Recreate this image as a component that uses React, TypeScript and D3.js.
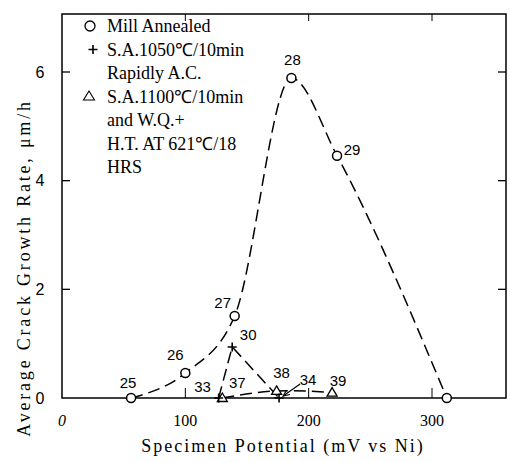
import React from "react";
import * as d3 from "d3";

// Mill Annealed (circles)
const millX = [56, 100, 140, 186, 223, 312];
const millY = [0, 0.46, 1.51, 5.89, 4.46, 0];
const millLabels = ["25", "26", "27", "28", "29", ""];

// S.A.1050C/10min Rapidly A.C. (plus)
const saAX = [127, 138, 176];
const saAY = [0, 0.94, 0];
const saALabels = ["33", "30", "34"];

// S.A.1100C/10min and W.Q. + H.T. (triangles)
const saBX = [130, 174, 219];
const saBY = [0, 0.13, 0.1];
const saBLabels = ["37", "38", "39"];

const xTicks = [0, 100, 200, 300];
const yTicks = [0, 2, 4, 6];

const legendLines = [
  "Mill Annealed",
  "S.A.1050\u2103/10min",
  "Rapidly A.C.",
  "S.A.1100\u2103/10min",
  "and W.Q.+",
  "H.T. AT 621\u2103/18",
  "HRS",
];

// label offsets (px) from their point
const labelOffset: Record<string, [number, number]> = {
  "25": [-3, -15], "26": [-10, -18], "27": [-12, -13], "28": [1, -18], "29": [15, -6],
  "30": [16, -12], "33": [-16, -11], "34": [29, -18],
  "37": [15, -15], "38": [5, -18], "39": [6, -12],
};

const SERIF = "'Liberation Serif'";
const SANS = "'Liberation Sans'";

const width = 510;
const height = 462;
const left = 62, right = 506, top = 14, bottom = 398;

const x = d3.scaleLinear().domain([0, 360]).range([left, right]);
const y = d3.scaleLinear().domain([0, 6]).range([bottom, 72]);

type Pt = [number, number];
const millPts: Pt[] = millX.map((v, i) => [v, millY[i]]);
const saAPts: Pt[] = saAX.map((v, i) => [v, saAY[i]]);
const saBPts: Pt[] = saBX.map((v, i) => [v, saBY[i]]);

const lineMono = d3.line<Pt>().x(d => x(d[0])).y(d => y(d[1])).curve(d3.curveMonotoneX);
const lineLin = d3.line<Pt>().x(d => x(d[0])).y(d => y(d[1]));
const lineNat = d3.line<Pt>().x(d => x(d[0])).y(d => y(d[1])).curve(d3.curveNatural);

const dash = "12,6";

const Plus = ({ cx, cy }: { cx: number; cy: number }) => (
  <path d={`M${cx - 4.5},${cy}H${cx + 4.5}M${cx},${cy - 4.5}V${cy + 4.5}`} stroke="#000" strokeWidth={1.6} />
);
const Tri = ({ cx, cy }: { cx: number; cy: number }) => (
  <path d={`M${cx},${cy - 5}L${cx + 5},${cy + 3.5}L${cx - 5},${cy + 3.5}Z`} fill="#fff" stroke="#000" strokeWidth={1.3} />
);

const Labels = ({ pts, labels }: { pts: Pt[]; labels: string[] }) => (
  <g>
    {pts.map((d, i) => {
      const lab = labels[i];
      if (!lab) return null;
      const [dx, dy] = labelOffset[lab];
      return (
        <text key={lab} x={x(d[0]) + dx} y={y(d[1]) + dy} dy="0.35em" textAnchor="middle"
          style={{ fontFamily: SANS, fontSize: 15 }}>{lab}</text>
      );
    })}
  </g>
);

export default function App() {
  // arrow from "34" label to its point
  const p34x = x(saAX[2]), p34y = y(saAY[2]);
  const ax0 = p34x + 21, ay0 = p34y - 14, ax1 = p34x + 4, ay1 = p34y - 2;
  const ang = Math.atan2(ay1 - ay0, ax1 - ax0);
  const hl = 7;
  const head = `M${ax1 - hl * Math.cos(ang - 0.4)},${ay1 - hl * Math.sin(ang - 0.4)}L${ax1},${ay1}L${ax1 - hl * Math.cos(ang + 0.4)},${ay1 - hl * Math.sin(ang + 0.4)}`;

  return (
    <svg width={width} height={height} style={{ display: "block", position: "absolute", left: 0, top: 0 }}>
      <rect x={left} y={top} width={right - left} height={bottom - top} fill="none" stroke="#000" strokeWidth={1.5} />

      {yTicks.filter(t => t > 0).map(t => (
        <g key={"yt" + t}>
          <line x1={left} x2={left + 8} y1={y(t)} y2={y(t)} stroke="#000" strokeWidth={1.3} />
          <line x1={right} x2={right - 8} y1={y(t)} y2={y(t)} stroke="#000" strokeWidth={1.3} />
        </g>
      ))}
      {xTicks.filter(t => t > 0).map(t => (
        <g key={"xt" + t}>
          <line x1={x(t)} x2={x(t)} y1={bottom} y2={bottom - 10} stroke="#000" strokeWidth={1} />
          <line x1={x(t)} x2={x(t)} y1={top} y2={top + 7} stroke="#000" strokeWidth={1} />
        </g>
      ))}

      {yTicks.map(t => (
        <text key={"yl" + t} x={40} y={y(t)} dy="0.35em" textAnchor="middle"
          style={{ fontFamily: SANS, fontSize: 16 }}>{t}</text>
      ))}
      {xTicks.map(t => (
        <text key={"xl" + t} x={x(t)} y={420} dy="0.35em" textAnchor="middle"
          style={{ fontFamily: SERIF, fontSize: 16, fontStyle: t === 0 ? "italic" : "normal" }}>{t}</text>
      ))}

      <text transform="translate(24,268) rotate(-90)" textAnchor="middle" dy="0.35em"
        style={{ fontFamily: SERIF, fontSize: 18, letterSpacing: 2.8 }}>
        {"Average Crack Growth Rate, \u03bcm/h"}
      </text>
      <text x={283} y={446} textAnchor="middle" dy="0.35em"
        style={{ fontFamily: SERIF, fontSize: 18, letterSpacing: 2 }}>
        Specimen Potential (mV vs Ni)
      </text>

      <path d={lineMono(millPts) || ""} fill="none" stroke="#000" strokeWidth={1.5} strokeDasharray={dash} />
      <path d={lineLin(saAPts) || ""} fill="none" stroke="#000" strokeWidth={1.5} strokeDasharray={dash} />
      <path d={lineNat(saBPts) || ""} fill="none" stroke="#000" strokeWidth={1.5} strokeDasharray={dash} />

      {saBPts.map((d, i) => <Tri key={"tr" + i} cx={x(d[0])} cy={y(d[1])} />)}
      {millPts.map((d, i) => (
        <circle key={"c" + i} cx={x(d[0])} cy={y(d[1])} r={4.5} fill="#fff" stroke="#000" strokeWidth={1.5} />
      ))}
      {saAPts.map((d, i) => <Plus key={"p" + i} cx={x(d[0])} cy={y(d[1])} />)}

      <Labels pts={millPts} labels={millLabels} />
      <Labels pts={saAPts} labels={saALabels} />
      <Labels pts={saBPts} labels={saBLabels} />

      <line x1={ax0} y1={ay0} x2={ax1} y2={ay1} stroke="#000" strokeWidth={1.2} />
      <path d={head} fill="none" stroke="#000" strokeWidth={1.2} />

      <g>
        {legendLines.map((t, i) => (
          <text key={"lg" + i} x={107} y={26 + i * 23.5} dy="0.35em"
            style={{ fontFamily: SERIF, fontSize: 18 }}>{t}</text>
        ))}
        <circle cx={90} cy={26} r={5} fill="#fff" stroke="#000" strokeWidth={1.3} />
        <Plus cx={93} cy={49.5} />
        <path d="M89,91L94.5,100L83.5,100Z" fill="#fff" stroke="#000" strokeWidth={1.1} />
      </g>
    </svg>
  );
}
